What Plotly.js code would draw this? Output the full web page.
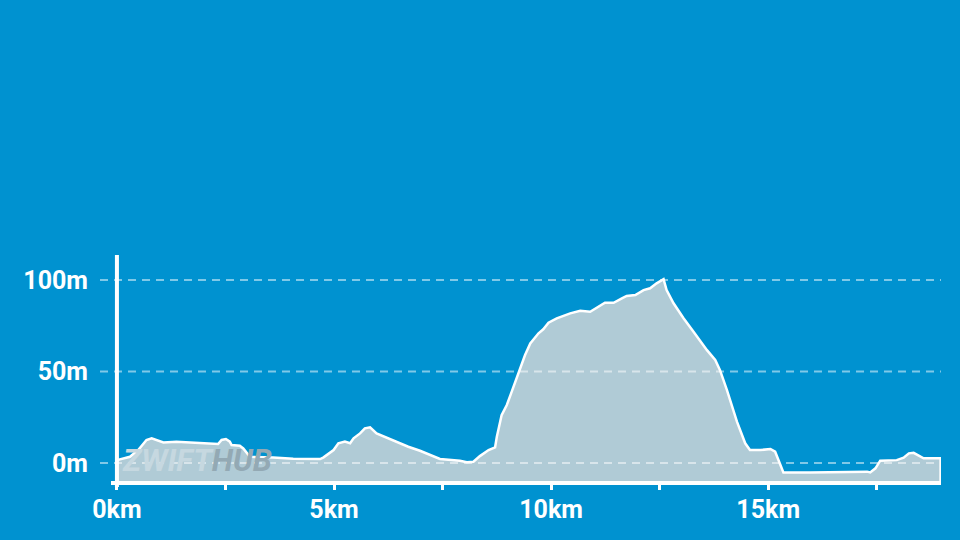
<!DOCTYPE html>
<html>
<head>
<meta charset="utf-8">
<script src="https://cdn.plot.ly/plotly-3.0.1.min.js"></script>
<style>html,body{margin:0;padding:0;background:#0092d0;}#chart{width:960px;height:540px;}</style>
</head>
<body>
<div id="chart"></div>
<script>
// Distance along route (km)
var distanceKm = [0, 0.30, 0.49, 0.68, 0.80, 0.91, 1.07, 1.37, 1.76, 2.33, 2.41, 2.51, 2.60, 2.64, 2.83, 2.91, 3.03, 3.06, 3.60, 4.06, 4.68, 4.76, 4.99, 5.10, 5.25, 5.37, 5.45, 5.60, 5.71, 5.83, 5.98, 6.21, 6.41, 6.71, 6.98, 7.21, 7.44, 7.90, 8.06, 8.21, 8.36, 8.56, 8.71, 8.75, 8.86, 8.98, 9.13, 9.29, 9.40, 9.52, 9.71, 9.82, 9.94, 10.13, 10.44, 10.67, 10.90, 11.24, 11.44, 11.63, 11.74, 11.94, 12.13, 12.28, 12.43, 12.59, 12.66, 12.82, 13.05, 13.28, 13.59, 13.78, 13.89, 14.05, 14.28, 14.47, 14.58, 14.82, 15.05, 15.16, 15.35, 15.97, 17.28, 17.35, 17.47, 17.58, 17.96, 18.12, 18.24, 18.35, 18.58, 18.97];
// Elevation (m)
var elevationM = [1.6, 3.4, 7.1, 12.6, 13.5, 12.6, 11.3, 11.7, 11.1, 10.4, 12.6, 13.1, 11.7, 9.8, 9.5, 8.0, 4.4, 3.4, 3.1, 2.4, 2.2, 3.1, 7.1, 10.8, 11.7, 10.8, 13.5, 16.2, 19.0, 19.5, 16.2, 14.0, 11.7, 8.9, 6.7, 4.4, 2.2, 1.3, 0.4, 0.7, 3.8, 7.1, 8.6, 14.4, 26.2, 31.7, 41.7, 52.6, 59.0, 65.4, 70.9, 73.1, 76.7, 79.1, 81.8, 83.2, 82.7, 87.6, 87.6, 90.0, 91.3, 91.8, 94.5, 95.5, 98.2, 100.5, 94.5, 87.3, 79.1, 71.7, 61.7, 56.3, 50.8, 39.9, 22.6, 10.8, 7.1, 7.1, 7.7, 6.2, -5.1, -5.1, -4.7, -5.1, -2.9, 1.3, 1.6, 2.9, 5.3, 5.6, 2.6, 2.6];

var xTickVals = [0, 2.5, 5, 7.5, 10, 12.5, 15, 17.5];
var xTickText = ['0km', '', '5km', '', '10km', '', '15km', ''];
var yTickVals = [0, 50, 100];
var yTickText = ['0m', '50m', '100m'];

var X_MIN = -0.39, X_MAX = 18.98;
var Y_MIN = -10.9, Y_MAX = 113.7;

// closed polygon for the filled profile down to the bottom axis
var polyX = distanceKm.concat([distanceKm[distanceKm.length - 1], distanceKm[0]]);
var polyY = elevationM.concat([Y_MIN, Y_MIN]);

var profile = {
  x: polyX, y: polyY, type: 'scatter', mode: 'lines',
  fill: 'toself', fillcolor: '#b0cbd6',
  line: {color: '#ffffff', width: 2.5},
  hoverinfo: 'skip', showlegend: false
};

var shapes = [];
yTickVals.forEach(function (v) {
  shapes.push({type: 'line', xref: 'paper', yref: 'y', x0: 0, x1: 1, y0: v, y1: v,
    line: {color: 'rgba(255,255,255,0.5)', width: 2, dash: '8px,6px'}, layer: 'above'});
});
var axisXPaper = (0 - X_MIN) / (X_MAX - X_MIN);
// y-axis line
shapes.push({type: 'line', xref: 'paper', yref: 'paper', x0: axisXPaper, x1: axisXPaper, y0: -4 / 228, y1: 1,
  line: {color: '#ffffff', width: 4}, layer: 'above'});
// x-axis line
shapes.push({type: 'line', xref: 'paper', yref: 'paper', x0: 11 / 841, x1: 1, y0: 0, y1: 0,
  line: {color: '#ffffff', width: 4}, layer: 'above'});

var layout = {
  width: 960, height: 540,
  paper_bgcolor: '#0092d0', plot_bgcolor: '#0092d0',
  margin: {l: 100, r: 19, t: 255, b: 57},
  showlegend: false,
  font: {family: 'Roboto, sans-serif', color: '#ffffff'},
  xaxis: {
    range: [X_MIN, X_MAX], showgrid: false, zeroline: false, showline: false,
    tickvals: xTickVals, ticktext: xTickText,
    ticks: 'outside', ticklen: 6, tickwidth: 3, tickcolor: '#ffffff',
    tickfont: {family: 'Roboto, sans-serif', size: 25, color: '#ffffff', weight: 'bold'},
    ticklabelstandoff: -2, fixedrange: true
  },
  yaxis: {
    range: [Y_MIN, Y_MAX], showgrid: false, zeroline: false, showline: false,
    tickvals: yTickVals, ticktext: yTickText, ticks: '',
    tickfont: {family: 'Roboto, sans-serif', size: 25, color: '#ffffff', weight: 'bold'},
    ticklabelstandoff: 11, fixedrange: true
  },
  shapes: shapes,
  annotations: [{
    xref: 'paper', yref: 'paper', x: 3 / 841 + axisXPaper, y: 0.01, xanchor: 'left', yanchor: 'bottom',
    text: '<b><i>ZWIFT<span style="color:#93a9b4">HUB</span></i></b>',
    showarrow: false,
    font: {family: 'Roboto, sans-serif', size: 31, color: '#c6d8e0'}
  }]
};

Plotly.newPlot('chart', [profile], layout, {displayModeBar: false, staticPlot: true});
</script>
</body>
</html>
